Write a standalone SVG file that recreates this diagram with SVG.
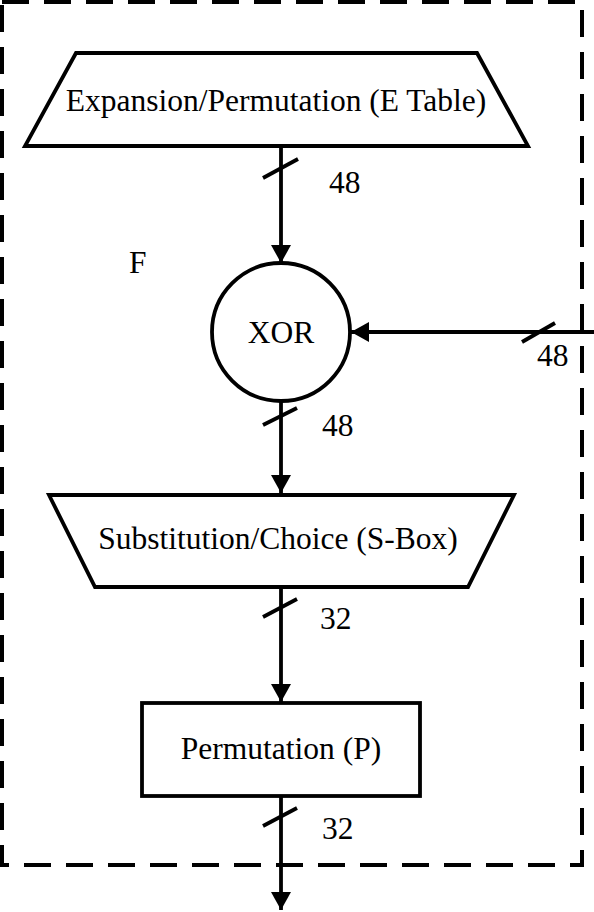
<svg xmlns="http://www.w3.org/2000/svg" width="594" height="912" viewBox="0 0 594 912">
<style>
.shape{fill:#fff;stroke:#000;stroke-width:3.8}
.line{stroke:#000;stroke-width:3.8;fill:none}
.tick{stroke:#000;stroke-width:3.8}
.border{fill:none;stroke:#000;stroke-width:4;stroke-dasharray:27 15}
text{font-family:"Liberation Serif","Times New Roman",serif;font-size:31.5px;fill:#000}
.c{text-anchor:middle}
</style>
<defs>
<marker id="arr" markerWidth="20" markerHeight="20" refX="18" refY="10" orient="auto" markerUnits="userSpaceOnUse">
<path d="M0,0 L18,10 L0,20 Z" fill="#000"/>
</marker>
</defs>
<g id="frame">
<rect class="border" x="2" y="2" width="580" height="863"/>
<text x="129" y="273">F</text>
</g>
<g id="connectors">
<line class="line" x1="281" y1="146" x2="281" y2="263" marker-end="url(#arr)"/>
<line class="tick" x1="263" y1="178" x2="298" y2="159"/>
<text x="329" y="193">48</text>
<line class="line" x1="594" y1="332" x2="351" y2="332" marker-end="url(#arr)"/>
<line class="tick" x1="522" y1="342" x2="555" y2="323"/>
<text x="537" y="366">48</text>
<line class="line" x1="281" y1="401" x2="281" y2="493" marker-end="url(#arr)"/>
<line class="tick" x1="263" y1="425" x2="297" y2="408"/>
<text x="322" y="436">48</text>
<line class="line" x1="281" y1="587" x2="281" y2="702" marker-end="url(#arr)"/>
<line class="tick" x1="263" y1="617" x2="297" y2="599"/>
<text x="320" y="629">32</text>
<line class="line" x1="281" y1="796" x2="281" y2="910" marker-end="url(#arr)"/>
<line class="tick" x1="263" y1="826" x2="297" y2="808"/>
<text x="322" y="839">32</text>
</g>
<g id="expansion">
<polygon class="shape" points="76,53 477,53 528,146 25,146"/>
<text class="c" x="276" y="111">Expansion/Permutation (E Table)</text>
</g>
<g id="xor">
<circle class="shape" cx="281" cy="332" r="69"/>
<text class="c" x="281" y="343">XOR</text>
</g>
<g id="sbox">
<polygon class="shape" points="49,495 514,495 468,587 95,587"/>
<text class="c" x="278" y="549">Substitution/Choice (S-Box)</text>
</g>
<g id="perm">
<rect class="shape" x="142" y="703" width="278" height="93"/>
<text class="c" x="281" y="759">Permutation (P)</text>
</g>
</svg>
